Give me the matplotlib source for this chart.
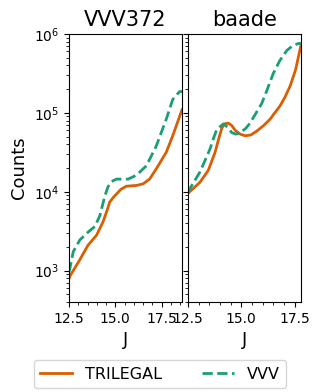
import numpy as np
import matplotlib
matplotlib.use('Agg')
from matplotlib import pyplot as plt
from matplotlib.ticker import MultipleLocator

# VVV372 field
j_vvv372_tri = [12.5, 12.55, 13.09, 13.52, 13.99, 14.34, 14.55, 14.70, 14.9, 15.06, 15.3, 15.6, 16.14, 16.5,
                16.85, 17.21, 17.75, 18.1, 18.6]
log_vvv372_tri = [2.90, 2.93, 3.14, 3.32, 3.45, 3.62, 3.76, 3.87, 3.93, 3.97, 4.03, 4.07, 4.08, 4.10,
                  4.16, 4.29, 4.50, 4.71, 5.04]
j_vvv372_vvv = [12.5, 12.55, 12.73, 13.09, 13.54, 13.9, 14.17, 14.44, 14.6, 14.8, 15.06, 15.69, 16.14,
                16.68, 17.21, 17.75, 18.1, 18.47, 18.6]
log_vvv372_vvv = [2.98, 3.03, 3.24, 3.39, 3.49, 3.56, 3.70, 3.95, 4.06, 4.13, 4.16, 4.16, 4.21,
                  4.33, 4.58, 4.92, 5.17, 5.27, 5.27]

# baade field
j_baade_tri = [12.5, 13.06, 13.45, 13.77, 13.95, 14.08, 14.2, 14.39, 14.55, 14.71, 14.95, 15.18, 15.45,
               15.73, 16.05, 16.35, 16.82, 17.05, 17.29, 17.55, 17.8]
log_baade_tri = [3.98, 4.12, 4.27, 4.5, 4.68, 4.8, 4.86, 4.87, 4.84, 4.78, 4.73, 4.71, 4.72,
                 4.77, 4.84, 4.92, 5.09, 5.2, 5.34, 5.55, 5.86]
j_baade_vvv = [12.5, 12.59, 13.06, 13.53, 13.7, 13.85, 14.16, 14.35, 14.55, 14.75, 14.94, 15.2, 15.41,
               15.96, 16.25, 16.5, 16.8, 17.13, 17.4, 17.68, 17.8]
log_baade_vvv = [3.98, 4.04, 4.25, 4.54, 4.68, 4.79, 4.86, 4.82, 4.75, 4.73, 4.75, 4.8, 4.87,
                 5.12, 5.32, 5.5, 5.66, 5.79, 5.85, 5.88, 5.88]

fields = ['VVV372', 'baade']
data = {
    'VVV372': (j_vvv372_tri, log_vvv372_tri, j_vvv372_vvv, log_vvv372_vvv, 18.6),
    'baade': (j_baade_tri, log_baade_tri, j_baade_vvv, log_baade_vvv, 17.8),
}

fig = plt.figure(figsize=(3.2, 3.92), dpi=100)
ax1 = fig.add_axes([69 / 320, 90 / 392, 113 / 320, 268 / 392])
ax2 = fig.add_axes([188 / 320, 90 / 392, 113 / 320, 268 / 392], sharey=ax1)

for ax, name in zip([ax1, ax2], fields):
    jt, lt, jv, lv, xmax = data[name]
    ax.plot(jt, 10 ** np.array(lt), color='#d95f02', lw=2, label='TRILEGAL')
    ax.plot(jv, 10 ** np.array(lv), color='#1b9e77', lw=2, ls='--', label='VVV')
    ax.set_yscale('log')
    ax.set_xlim(12.5, xmax)
    ax.set_ylim(400, 1e6)
    ax.set_title(name, fontsize=15)
    ax.set_xlabel('J', fontsize=13)
    ax.xaxis.set_major_locator(MultipleLocator(2.5))
    ax.xaxis.set_minor_locator(MultipleLocator(0.5))
    ax.tick_params(labelsize=10)

ax1.set_ylabel('Counts', fontsize=13)
ax2.tick_params(labelleft=False)

handles, labels = ax1.get_legend_handles_labels()
fig.legend(handles, labels, loc='lower center', bbox_to_anchor=(0.5, 0.0), ncol=2,
           fontsize=11.5, columnspacing=2.5, borderaxespad=0.25)

fig.savefig('out.png', dpi=100)
